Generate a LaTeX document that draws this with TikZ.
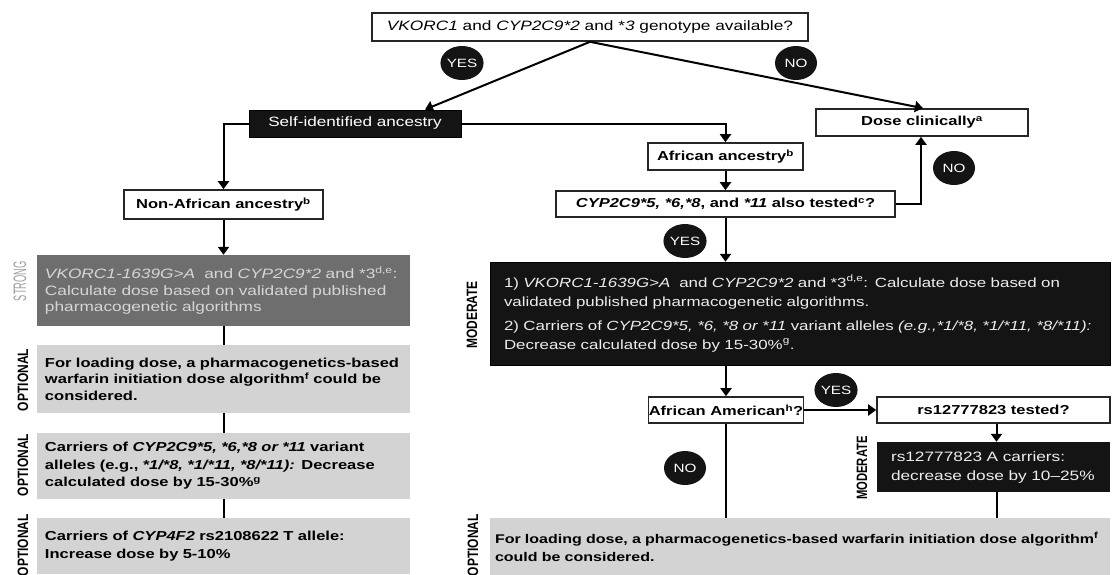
\documentclass[tikz,border=0pt]{standalone}
\usepackage{fontspec}
\usepackage{graphicx}
\setmainfont{Liberation Sans}[FakeStretch=1.27]
\newfontfamily\rotfont{Liberation Sans}
\usetikzlibrary{arrows.meta,shapes.geometric,calc}
\definecolor{boxblack}{HTML}{141414}
\definecolor{strongfill}{HTML}{6E6E6E}
\definecolor{strongtext}{HTML}{D6D6D6}
\definecolor{lightfill}{HTML}{D3D3D3}
\definecolor{labgray}{HTML}{A0A0A0}
\definecolor{modtext}{HTML}{EDEDED}
\tikzset{
  sz/.style 2 args={minimum width=#1pt, minimum height=#2pt},
  wbox/.style={draw=black!85, line width=1.6pt, fill=white, inner sep=0pt, font=\fontsize{13}{16}\selectfont},
  bbox/.style={draw=black, line width=1pt, fill=boxblack, text=white, inner sep=0pt, font=\fontsize{13}{16}\selectfont},
  txtbox/.style={inner ysep=0pt, align=left, font=\fontsize{13}{17}\selectfont},
  arr/.style={line width=2pt, -{Triangle[width=11pt,length=8pt]}},
  con/.style={line width=2pt},
  circ/.style={ellipse, fill=boxblack, text=white, minimum width=42pt, minimum height=34pt, inner sep=0pt, font=\fontsize{12}{12}\selectfont},
  lab/.style={rotate=90, inner sep=0pt, font=\rotfont\bfseries\fontsize{15}{15}\selectfont},
}
\begin{document}
\begin{tikzpicture}[x=1pt,y=-1pt]
\useasboundingbox[fill=white] (0,0) rectangle (1112,574);

% top row
\node[wbox, sz={436}{28}, font=\fontsize{13.6}{16}\selectfont] (top) at (590,27) {\textit{VKORC1} and \textit{CYP2C9*2} and *\textit{3} genotype available?};
\node[circ] (yes1) at (462,63) {YES};
\node[circ] (no1) at (796,63) {NO};

\node[bbox, sz={212}{27}, font=\fontsize{13.5}{16}\selectfont] (self) at (355,123.5) {Self-identified ancestry};
\node[wbox, sz={212}{27}, font=\bfseries\fontsize{13}{16}\selectfont] (dose) at (922,122.5) {Dose clinically\textsuperscript{a}};

\node[wbox, sz={199}{29}, font=\bfseries\fontsize{13}{16}\selectfont] (nonaf) at (223.5,204.5) {Non-African ancestry\textsuperscript{b}};
\node[wbox, sz={155}{27}, font=\bfseries\fontsize{13}{16}\selectfont] (afr) at (725.5,156.5) {African ancestry\textsuperscript{b}};
\node[wbox, sz={339}{26}, font=\bfseries\fontsize{13}{16}\selectfont] (cyp) at (725.5,204) {\textit{CYP2C9*5, *6,*8}, and \textit{*11} also tested\textsuperscript{c}?};
\node[circ] (no2) at (954,168) {NO};
\node[circ] (yes2) at (685,241) {YES};

% left column
\node[txtbox, sz={373}{71}, fill=strongfill, text=strongtext, text width=357pt, inner xsep=8pt, font=\fontsize{13.6}{16.5}\selectfont] (strong) at (223.5,290.5)
 {\mbox{\textit{VKORC1-1639G>A}\ \ and \textit{CYP2C9*2} and *3\textsuperscript{d,e}:}\\\mbox{Calculate dose based on validated published}\\pharmacogenetic algorithms};
\node[txtbox, sz={373}{68}, fill=lightfill, text width=357pt, inner xsep=8pt, font=\bfseries\fontsize{13}{16.5}\selectfont] (opt1) at (223.5,379)
 {For loading dose, a pharmacogenetics-based\\warfarin initiation dose algorithm\textsuperscript{f} could be\\considered.};
\node[txtbox, sz={373}{66}, fill=lightfill, text width=357pt, inner xsep=8pt, font=\bfseries\fontsize{13}{17.5}\selectfont] (opt2) at (223.5,466)
 {Carriers of \textit{CYP2C9*5, *6,*8 or *11} variant\\alleles (e.g., \textit{*1/*8, *1/*11, *8/*11):} Decrease\\calculated dose by 15-30\%\textsuperscript{g}};
\node[txtbox, sz={373}{56}, fill=lightfill, text width=357pt, inner xsep=8pt, font=\bfseries\fontsize{13}{18}\selectfont] (opt3) at (223.5,546)
 {Carriers of \textit{CYP4F2} rs2108622 T allele:\\Increase dose by 5-10\%};

\node[lab, text=labgray, font=\rotfont\fontsize{18}{18}\selectfont] (lstrong) at (20,281) {\scalebox{0.52}[1]{STRONG}};
\node[lab] (lopt1) at (23,380) {\scalebox{0.8}[1]{OPTIONAL}};
\node[lab] (lopt2) at (23,465) {\scalebox{0.8}[1]{OPTIONAL}};
\node[lab] (lopt3) at (23,545) {\scalebox{0.8}[1]{OPTIONAL}};

% right column
\node[txtbox, sz={620}{103}, fill=boxblack, draw=black, text=modtext, text width=592pt, inner xsep=14pt, font=\fontsize{13.3}{19}\selectfont] (mod) at (800,313.5)
 {1) \textit{VKORC1-1639G>A}\ \ and \textit{CYP2C9*2} and *3\textsuperscript{d,e}: Calculate dose based on\\validated published pharmacogenetic algorithms.\\[5pt]
  2) Carriers of \textit{CYP2C9*5, *6, *8 or *11} variant alleles \textit{(e.g.,*1/*8, *1/*11, *8/*11):}\\Decrease calculated dose by 15-30\%\textsuperscript{g}.};
\node[lab] (lmod1) at (472,315) {\scalebox{0.8}[1]{MODERATE}};

\node[wbox, sz={155}{26}, font=\bfseries\fontsize{13}{16}\selectfont] (aa) at (726,410) {African American\textsuperscript{h}?};
\node[wbox, sz={233}{26}, font=\bfseries\fontsize{13}{16}\selectfont] (rst) at (993.5,410) {rs12777823 tested?};
\node[circ] (yes3) at (836,390) {YES};
\node[circ] (no3) at (685,468) {NO};
\node[txtbox, sz={233}{50}, fill=boxblack, text=modtext, text width=205pt, inner xsep=14pt, font=\fontsize{13.6}{19}\selectfont] (rsc) at (993.5,467)
 {\mbox{rs12777823 A carriers:}\\\mbox{decrease dose by 10--25\%}};
\node[lab] (lmod2) at (862,468) {\scalebox{0.75}[1]{MODERATE}};

\node[txtbox, sz={620}{58}, fill=lightfill, text width=610pt, inner xsep=5pt, font=\bfseries\fontsize{12.6}{18}\selectfont] (botR) at (800,547)
 {For loading dose, a pharmacogenetics-based warfarin initiation dose algorithm\textsuperscript{f}\\could be considered.};
\node[lab] (lopt4) at (473,545) {\scalebox{0.8}[1]{OPTIONAL}};

% connectors
\draw[arr] (top.south) -- ([xshift=70pt]self.north);
\draw[arr] (top.south) -- ([xshift=1pt]dose.north);
\draw[arr] (self.west) -| (nonaf.north);
\draw[arr] (self.east) -| (afr.north);
\draw[arr] (nonaf.south) -- (strong.north);
\draw[arr] (afr.south) -- (cyp.north);
\draw[arr] (cyp.east) -| ([xshift=-1pt]dose.south);
\draw[arr] (cyp.south) -- (cyp.south |- mod.north);
\draw[arr] (mod.south -| aa.north) -- (aa.north);
\draw[arr] (aa.east) -- (rst.west);
\draw[arr] ([xshift=3pt]rst.south) -- ([xshift=3pt]rsc.north);
\draw[con] ([xshift=3pt]rsc.south) -- ([xshift=3pt]rsc.south |- botR.north);
\draw[con] (aa.south) -- (aa.south |- botR.north);
\draw[con] (strong.south) -- (opt1.north);
\draw[con] (opt1.south) -- (opt2.north);
\draw[con] (opt2.south) -- (opt3.north);
\end{tikzpicture}
\end{document}
